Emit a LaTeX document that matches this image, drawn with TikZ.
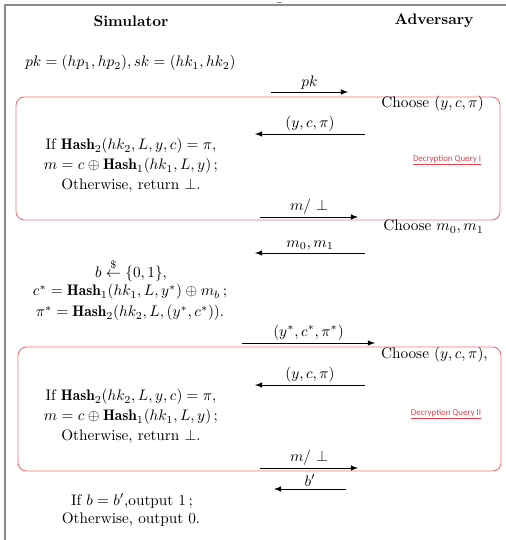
\documentclass[tikz,border=0pt]{standalone}
\usepackage{amsmath,amssymb}
\usepackage{fontspec}
\newfontfamily\qfont{Carlito}
\definecolor{boxred}{HTML}{F07078}
\definecolor{qred}{HTML}{E8414A}
\definecolor{framegray}{HTML}{8A8A8A}
\newlength{\pxu}\setlength{\pxu}{0.655pt}
\begin{document}
\begin{tikzpicture}[x=\pxu,y=-\pxu,
  msg/.style={draw=black,line width=0.6pt,-latex},
  mlbl/.style={above=0.5pt,inner sep=1pt},
  txt/.style={inner sep=0pt},
  qbox/.style={draw=boxred,line width=0.6pt,rounded corners=5.5pt},
  qlabel/.style={inner sep=0pt,text=qred,font=\qfont\fontsize{5.8}{7}\selectfont},
  frame/.style={draw=framegray,line width=1.1pt}]
\useasboundingbox (0,0) rectangle (506,540);
% frame
\draw[frame] (5,540) -- (5,5) -- (506,5);
\draw[draw=framegray,line width=0.8pt] (277,2.5) -- (282,2.5);
% headers
\node[txt] (sim) at (131,21) {\textbf{Simulator}};
\node[txt] (adv) at (434,21) {\textbf{Adversary}};
% keys
\node[txt,anchor=west] (keys) at (25,63) {$pk=(hp_1,hp_2),sk=(hk_1,hk_2)$};
\coordinate (pkA) at (271,92); \coordinate (pkB) at (348,92);
\draw[msg] (pkA) -- node[mlbl] {$pk$} (pkB);
% query box I
\draw[qbox] (16,97) rectangle (500,220);
\node[txt,anchor=east] (ch1) at (484,104) {Choose $(y,c,\pi)$};
\coordinate (a1A) at (365,134); \coordinate (a1B) at (255,134);
\draw[msg] (a1A) -- node[mlbl] {$(y,c,\pi)$} (a1B);
\node[txt] (d1a) at (131,146) {If $\mathbf{Hash}_2(hk_2,L,y,c)=\pi$,};
\node[txt] (d1b) at (131,166) {$m=c\oplus\mathbf{Hash}_1(hk_1,L,y)\,;$};
\node[txt] (d1c) at (131,186) {Otherwise, return $\bot$.};
\node[qlabel] (ql1) at (447,160) {\underline{Decryption Query I}};
\coordinate (r1A) at (260,217); \coordinate (r1B) at (358,217);
\draw[msg] (r1A) -- node[mlbl] {$m/\ \bot$} (r1B);
% challenge
\node[txt,anchor=east] (ch2) at (484,227) {Choose $m_0,m_1$};
\coordinate (a2A) at (365,253); \coordinate (a2B) at (255,253);
\draw[msg] (a2A) -- node[mlbl] {$m_0,m_1$} (a2B);
\node[txt] (c1) at (131,270) {$b\overset{\$}{\leftarrow}\{0,1\}$,};
\node[txt] (c2) at (130,292) {$c^*=\mathbf{Hash}_1(hk_1,L,y^*)\oplus m_b\,;$};
\node[txt] (c3) at (130,313) {$\pi^*=\mathbf{Hash}_2(hk_2,L,(y^*,c^*))$.};
\coordinate (a3A) at (242,343); \coordinate (a3B) at (375,343);
\draw[msg] (a3A) -- node[mlbl] {$(y^*,c^*,\pi^*)$} (a3B);
% query box II
\draw[qbox] (18,347) rectangle (501,471);
\node[txt,anchor=east] (ch3) at (488,355) {Choose $(y,c,\pi)$,};
\coordinate (a4A) at (365,385); \coordinate (a4B) at (255,385);
\draw[msg] (a4A) -- node[mlbl] {$(y,c,\pi)$} (a4B);
\node[txt] (d2a) at (131,397) {If $\mathbf{Hash}_2(hk_2,L,y,c)=\pi$,};
\node[txt] (d2b) at (131,417) {$m=c\oplus\mathbf{Hash}_1(hk_1,L,y)\,;$};
\node[txt] (d2c) at (131,437) {Otherwise, return $\bot$.};
\node[qlabel] (ql2) at (446,414) {\underline{Decryption Query II}};
\coordinate (r2A) at (260,468); \coordinate (r2B) at (358,468);
\draw[msg] (r2A) -- node[mlbl] {$m/\ \bot$} (r2B);
% guess
\coordinate (a5A) at (346,489); \coordinate (a5B) at (274,489);
\draw[msg] (a5A) -- node[mlbl] {$b'$} (a5B);
\node[txt] (o1) at (132,501) {If $b=b'$,output $1\,;$};
\node[txt] (o2) at (131,520) {Otherwise, output $0$.};
\end{tikzpicture}
\end{document}
